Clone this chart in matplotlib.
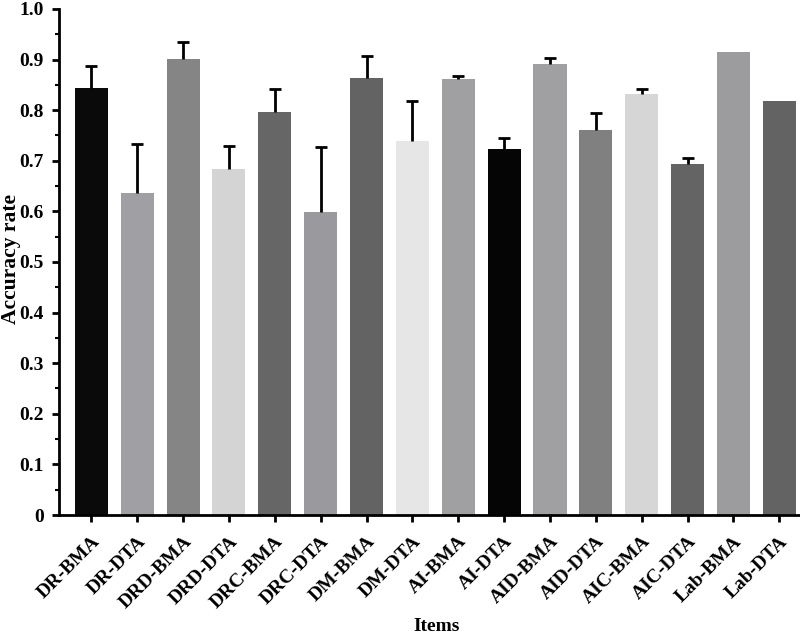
import numpy as np
import matplotlib.pyplot as plt
from matplotlib.ticker import MultipleLocator

# Data
items = ['DR-BMA', 'DR-DTA', 'DRD-BMA', 'DRD-DTA', 'DRC-BMA', 'DRC-DTA',
         'DM-BMA', 'DM-DTA', 'AI-BMA', 'AI-DTA', 'AID-BMA', 'AID-DTA',
         'AIC-BMA', 'AIC-DTA', 'Lab-BMA', 'Lab-DTA']
accuracy = [0.844, 0.636, 0.901, 0.684, 0.796, 0.598, 0.864, 0.739,
            0.861, 0.723, 0.891, 0.761, 0.832, 0.693, 0.915, 0.818]
err_up = [0.043, 0.097, 0.034, 0.045, 0.046, 0.129, 0.043, 0.079,
          0.006, 0.022, 0.012, 0.033, 0.010, 0.012, 0.0, 0.0]
colors = ['#0a0a0a', '#a0a0a4', '#858585', '#d4d4d4', '#666666', '#9a9a9e',
          '#636363', '#e6e6e6', '#a0a0a2', '#050505', '#a0a0a2', '#808080',
          '#d6d6d6', '#646464', '#9c9c9e', '#636363']

plt.rcParams['font.family'] = ['Liberation Serif', 'DejaVu Serif']
plt.rcParams['font.weight'] = 'bold'

fig = plt.figure(figsize=(8, 6.37), dpi=100)
ax = fig.add_axes([0.074, 0.1915, 0.926, 0.7945])

x = np.arange(len(items))
ax.bar(x, accuracy, width=0.72, color=colors, zorder=2)

# upward-only error bars, skip bars without error
has_err = [i for i, e in enumerate(err_up) if e > 0]
xe = x[has_err]
ye = np.array(accuracy)[has_err]
ee = np.array(err_up)[has_err]
eb = ax.errorbar(xe, ye, yerr=[np.zeros(len(ee)), ee], fmt='none',
                 ecolor='black', elinewidth=2, capsize=4, capthick=2, zorder=3)
eb[1][0].set_visible(False)  # hide lower caps

ax.set_xlim(-0.7, len(items) - 0.55)
ax.set_ylim(0, 1.0)
ax.yaxis.set_minor_locator(MultipleLocator(0.05))
ax.set_yticks(np.arange(0, 1.01, 0.1))
ax.set_yticklabels(['0'] + ['%.1f' % v for v in np.arange(0.1, 1.01, 0.1)])

ax.set_xticks(x)
ax.set_xticklabels(items, rotation=45, ha='right', rotation_mode='anchor',
                   fontsize=14, fontweight='bold')
for lab in ax.get_yticklabels():
    lab.set_fontsize(14)
    lab.set_fontweight('bold')

ax.spines['top'].set_visible(False)
ax.spines['right'].set_visible(False)
ax.spines['left'].set_linewidth(2)
ax.spines['bottom'].set_linewidth(2)
ax.tick_params(axis='both', which='major', width=2, length=5, direction='out')
ax.tick_params(axis='y', which='major', pad=6)
ax.tick_params(axis='x', which='major', pad=8)
ax.tick_params(axis='y', which='minor', width=1.5, length=3, direction='out')

ax.set_ylabel('Accuracy rate', fontsize=15.5, fontweight='bold', va='center')
ax.yaxis.set_label_coords(-0.065, 0.506)
ax.set_xlabel('Items', fontsize=14, fontweight='bold', va='center')
ax.xaxis.set_label_coords(0.509, -0.221)

fig.savefig('out.png', dpi=100)
